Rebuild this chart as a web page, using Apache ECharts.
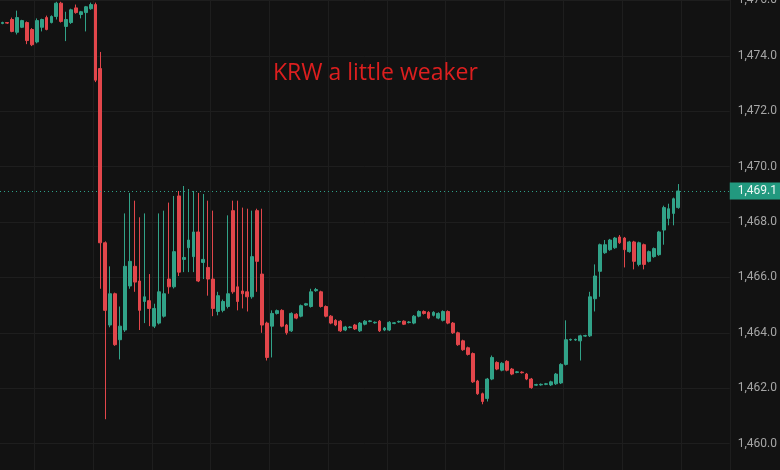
<!DOCTYPE html>
<html>
<head>
<meta charset="utf-8">
<script src="https://cdn.jsdelivr.net/npm/echarts@6/dist/echarts.min.js"></script>
<style>
html,body{margin:0;padding:0;background:#121212;overflow:hidden;width:780px;height:470px;position:relative;}
#chart{position:absolute;left:0;top:-61px;width:780px;height:566px;}
</style>
</head>
<body>
<div id="chart"></div>
<script>
// ---- data ----
const openPrices = [
1475.17,1475.20,1475.31,1474.85,1475.03,1475.20,1474.95,1474.50,1475.03,1475.38,
1475.20,1475.42,1475.90,1475.06,1475.20,1475.73,1475.49,1475.56,1475.70,1475.85,
1473.54,1467.25,1464.28,1465.41,1463.75,1464.10,1465.69,1466.40,1465.87,1465.13,
1465.16,1464.24,1464.35,1464.60,1465.94,1465.66,1468.94,1466.65,1467.07,1466.75,
1467.64,1466.54,1466.36,1465.94,1464.77,1464.81,1464.95,1468.41,1465.66,1465.51,
1465.48,1465.30,1468.41,1466.12,1464.35,1464.24,1464.70,1464.81,1464.28,1464.07,
1464.67,1464.60,1465.00,1464.95,1465.52,1465.48,1464.95,1464.60,1464.45,1464.42,
1464.10,1464.19,1464.28,1464.07,1464.31,1464.41,1464.36,1464.42,1464.10,1464.10,
1464.34,1464.39,1464.42,1464.37,1464.35,1464.60,1464.77,1464.74,1464.63,1464.53,
1464.45,1464.77,1464.35,1464.00,1463.71,1463.46,1463.25,1462.26,1461.80,1461.63,
1462.33,1462.93,1462.65,1462.97,1462.69,1462.57,1462.58,1462.51,1462.33,1462.11,
1462.12,1462.14,1462.12,1462.16,1462.19,1462.86,1463.74,1463.74,1463.71,1463.88,
1463.89,1465.23,1466.22,1466.89,1467.00,1467.07,1467.46,1467.42,1466.93,1467.28,
1466.47,1467.18,1466.58,1466.75,1466.82,1467.71,1468.13,1468.31,1468.52
];
const closePrices = [
1475.20,1475.18,1474.88,1475.38,1475.27,1474.55,1474.40,1475.27,1475.31,1474.95,
1475.42,1475.90,1475.24,1475.31,1475.66,1475.56,1475.59,1475.77,1475.85,1473.12,
1467.25,1464.81,1465.41,1463.57,1464.24,1466.40,1466.58,1465.83,1464.81,1465.30,
1464.88,1464.88,1465.48,1465.41,1465.66,1466.93,1466.19,1466.72,1467.35,1467.64,
1465.87,1466.65,1465.94,1464.88,1465.34,1465.13,1465.41,1465.48,1465.13,1465.41,
1465.30,1466.75,1466.58,1464.28,1463.11,1464.70,1464.80,1464.24,1464.00,1464.70,
1464.53,1464.98,1465.05,1465.48,1465.56,1464.95,1464.60,1464.35,1464.28,1464.07,
1464.21,1464.21,1464.14,1464.35,1464.42,1464.43,1464.38,1464.07,1464.17,1464.38,
1464.36,1464.41,1464.31,1464.39,1464.60,1464.77,1464.70,1464.53,1464.74,1464.70,
1464.77,1464.35,1464.00,1463.57,1463.39,1463.22,1462.23,1461.80,1461.52,1462.33,
1463.11,1462.69,1462.90,1462.65,1462.51,1462.59,1462.56,1462.33,1462.02,1462.13,
1462.14,1462.16,1462.23,1462.51,1462.86,1463.75,1463.76,1463.76,1463.89,1463.90,
1465.30,1466.05,1467.18,1467.18,1467.35,1467.42,1467.25,1467.00,1467.28,1466.58,
1467.25,1466.47,1466.93,1467.04,1467.64,1468.52,1468.48,1468.84,1469.12
];
const lowPrices = [
1475.14,1475.15,1474.85,1474.77,1475.00,1474.42,1474.35,1474.45,1474.88,1474.92,
1475.17,1475.31,1475.20,1474.53,1475.15,1475.52,1475.35,1474.88,1475.66,1473.05,
1465.59,1460.88,1464.20,1463.53,1463.04,1464.03,1465.59,1465.48,1464.10,1464.35,
1464.24,1464.17,1464.30,1464.55,1465.41,1465.60,1466.05,1466.19,1466.19,1466.19,
1465.83,1465.94,1465.34,1464.60,1464.63,1464.74,1464.88,1465.41,1464.81,1464.88,
1464.77,1465.23,1465.48,1464.00,1463.00,1463.11,1464.66,1464.20,1463.93,1464.03,
1464.49,1464.56,1464.97,1464.91,1465.48,1464.91,1464.56,1464.31,1464.24,1464.03,
1464.06,1464.16,1464.10,1464.03,1464.27,1464.38,1464.33,1464.03,1464.06,1464.06,
1464.31,1464.36,1464.28,1464.34,1464.31,1464.56,1464.66,1464.49,1464.59,1464.49,
1464.41,1464.31,1463.96,1463.53,1463.35,1463.18,1462.19,1461.76,1461.42,1461.52,
1462.29,1462.65,1462.61,1462.61,1462.47,1462.54,1462.53,1462.29,1461.98,1462.08,
1462.09,1462.11,1462.08,1462.12,1462.15,1462.82,1463.71,1463.71,1463.00,1463.85,
1463.85,1464.77,1465.30,1466.85,1466.96,1467.03,1467.21,1466.36,1466.89,1466.29,
1466.40,1466.29,1466.54,1466.71,1466.78,1467.18,1467.88,1467.88,1468.48
];
const highPrices = [
1475.23,1475.22,1475.38,1475.63,1475.30,1475.24,1475.00,1475.35,1475.34,1475.45,
1475.46,1475.95,1475.95,1475.59,1475.70,1475.85,1475.62,1475.80,1475.92,1475.92,
1474.14,1467.30,1466.40,1465.45,1464.95,1468.31,1469.05,1468.77,1468.17,1468.31,
1466.12,1465.05,1468.31,1468.41,1468.70,1468.94,1469.12,1469.30,1469.19,1469.12,
1469.05,1469.01,1468.77,1468.41,1465.48,1465.20,1468.24,1468.77,1468.77,1468.52,
1468.48,1468.41,1468.48,1468.48,1464.40,1464.81,1464.84,1464.85,1464.32,1464.74,
1464.71,1465.02,1465.08,1465.59,1465.62,1465.52,1464.99,1464.64,1464.49,1464.46,
1464.25,1464.24,1464.32,1464.39,1464.46,1464.46,1464.41,1464.46,1464.21,1464.42,
1464.39,1464.44,1464.45,1464.42,1464.64,1464.81,1464.81,1464.78,1464.78,1464.74,
1464.81,1464.81,1464.39,1464.04,1463.75,1463.50,1463.29,1462.30,1461.84,1462.37,
1463.18,1462.97,1462.94,1463.01,1462.73,1462.62,1462.61,1462.55,1462.37,1462.16,
1462.17,1462.19,1462.27,1462.55,1462.90,1464.45,1463.79,1463.79,1463.93,1463.93,
1465.48,1466.47,1467.22,1467.35,1467.39,1467.46,1467.53,1467.46,1467.32,1467.32,
1467.29,1467.22,1466.97,1467.08,1467.68,1468.59,1468.66,1468.88,1469.37
];
const priceTicks = { min: 1458, max: 1478, step: 2 };
const annotation = "KRW a little weaker";
const emptySlots = 10;

// ---- build ----
const n = openPrices.length;
const categories = [];
for (let i = 0; i < n + emptySlots; i++) categories.push(String(i));
const candles = openPrices.map((o, i) => [o, closePrices[i], lowPrices[i], highPrices[i]]);
const lastClose = closePrices[n - 1];
const fmt = v => Number(v).toLocaleString('en-US', { minimumFractionDigits: 1, maximumFractionDigits: 1 });

const UP = '#31a288', DOWN = '#e2464b';
const chart = echarts.init(document.getElementById('chart'), null, { renderer: 'canvas' });
chart.setOption({
  animation: false,
  backgroundColor: '#121212',
  title: {
    text: annotation,
    left: 268, top: 118,
    textStyle: { color: '#dd1f1f', fontSize: 23, fontWeight: 'normal', fontFamily: 'Open Sans' }
  },
  grid: { left: 0, width: 731, top: 0, bottom: 0 },
  xAxis: {
    type: 'category',
    data: categories,
    boundaryGap: true,
    axisLine: { show: false },
    axisTick: { show: false },
    axisLabel: { show: false },
    splitLine: {
      show: true,
      interval: function (idx) { return idx % 12 === 7; },
      lineStyle: { color: '#1e1e1e', width: 1 }
    }
  },
  yAxis: {
    type: 'value',
    position: 'right',
    min: priceTicks.min,
    max: priceTicks.max,
    interval: priceTicks.step,
    axisLine: { show: false },
    axisTick: { show: false },
    axisLabel: {
      margin: 8,
      color: '#a6a6a6',
      fontSize: 12,
      fontFamily: 'Roboto',
      formatter: fmt
    },
    splitLine: { lineStyle: { color: '#1e1e1e', width: 1 } }
  },
  series: [{
    type: 'candlestick',
    data: candles,
    barWidth: '68%',
    itemStyle: { color: UP, color0: DOWN, borderColor: UP, borderColor0: DOWN, borderWidth: 1 },
    markLine: {
      silent: true,
      symbol: ['none', 'none'],
      lineStyle: { type: [1, 3], color: '#2e9f87', width: 1 },
      label: {
        show: true,
        position: 'end',
        distance: 0,
        formatter: p => fmt(p.value),
        backgroundColor: '#22997f',
        color: '#eef7f4',
        fontSize: 12,
        fontFamily: 'Roboto',
        padding: [3, 8, 2, 8]
      },
      data: [{ yAxis: lastClose }]
    }
  }]
});
</script>
</body>
</html>
